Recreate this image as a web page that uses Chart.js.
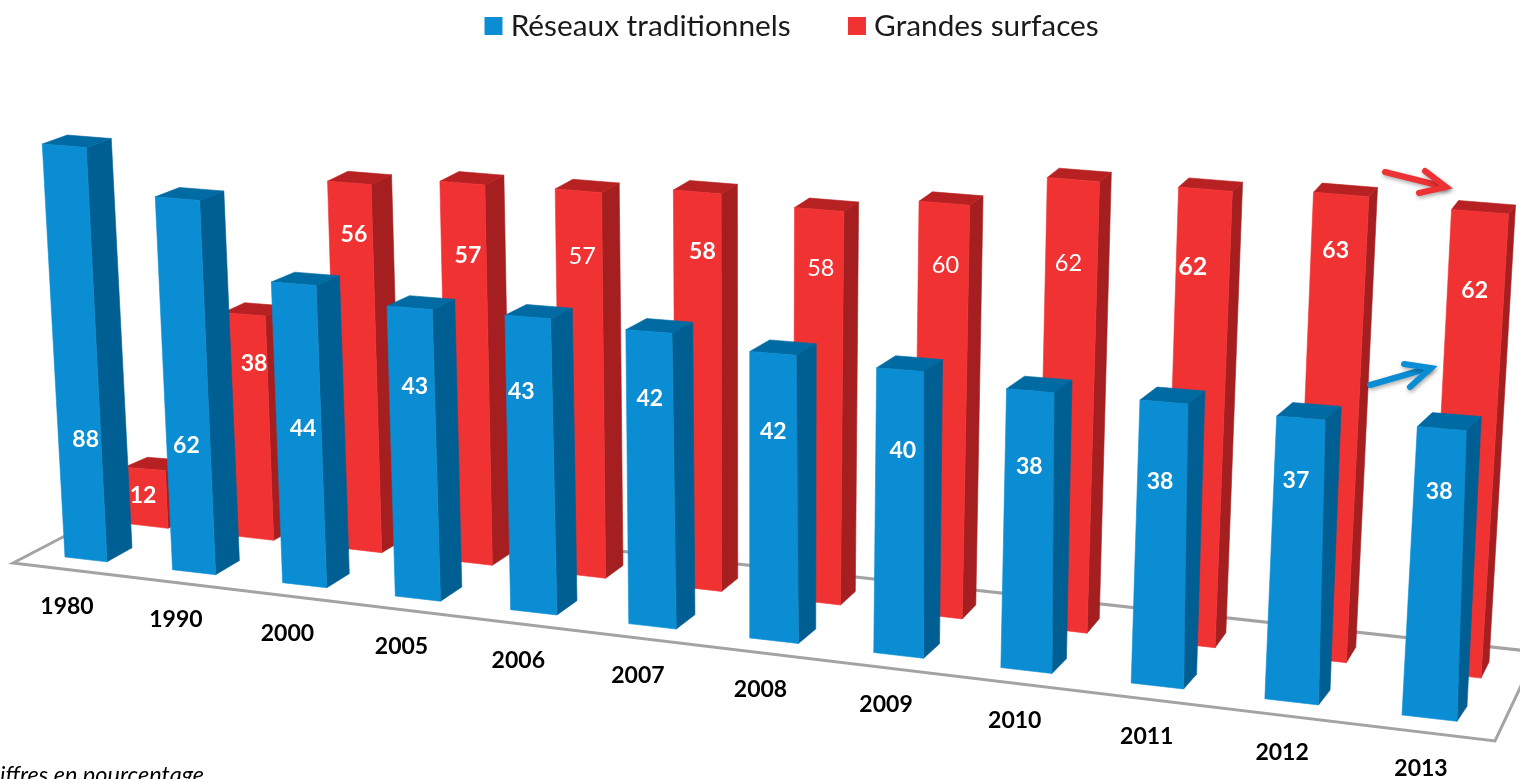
<!DOCTYPE html>
<html lang="fr"><head><meta charset="utf-8">
<style>html,body{margin:0;padding:0;background:#fff;overflow:hidden}#w{width:1520px;height:779px;position:relative}</style>
<script src="https://cdn.jsdelivr.net/npm/chart.js@4"></script>
</head><body><div id="w"><canvas id="c"></canvas></div>
<script>
const categories = ['1980','1990','2000','2005','2006','2007','2008','2009','2010','2011','2012','2013'];
const reseauxTraditionnels = [88,62,44,43,43,42,42,40,38,38,37,38];
const grandesSurfaces = [12,38,56,57,57,58,58,60,62,62,63,62];
const seriesNames = ['Réseaux traditionnels','Grandes surfaces'];
const footnote = 'Chiffres en pourcentage';

// View settings for the 3D look (no data here)
const FONT = 'Lato';
const lerp = (a,b,f)=>a+(b-a)*f;
const perspective = t => t/(1+0.143*(1-t));
const view = [
 { from:[65,557], to:[1402,715], wBase:[42,55], wTop:[44,49], dBase:[[25,-14],[10,-15]], dTop:[[25,-9],[15,-14]],
   vanish:[750,13000], pxPerUnit:[4.7,6.02,6.84,6.75,6.85,7.0,6.82,7.12,7.34,7.45,7.65,7.6],
   front:'#0a8dd2', side:'#005f92', top:'#006aa3',
   labelAt:[.29,.34,.52,.73,.75,.775,.73,.716,.73,.72,.78,.785],
   labelDx:[6,-2,4,3,-8,0,0,3,0,-2,-3,0],
   weight:[700,700,700,700,700,700,700,700,700,700,700,700], size:[23,23,23,23,23,23,23,23,23,23,23,23] },
 { from:[127,523.6], to:[1428,672], wBase:[41,53], wTop:[41,57], dBase:[[22,-11],[8,-16]], dTop:[[23,-10],[7,-9]],
   vanish:[750,14000], pxPerUnit:[4.7,5.87,6.55,6.65,6.74,6.83,6.76,6.87,7.26,7.34,7.38,7.47],
   front:'#f13233', side:'#a51f20', top:'#b82122',
   labelAt:[.54,.78,.86,.81,.83,.85,.85,.85,.815,.83,.88,.83],
   labelDx:[-3,8,3,4,3,5,2,2,-3,-10,-3,-1],
   weight:[700,700,700,700,400,700,400,400,400,700,700,700], size:[23,23,23,23,23.5,23,23.5,23.5,23.5,25,23,23] }
];
const floorOutline = [[13,563],[1495,741],[1537,652],[138,498]];
const tickFrom=[67,607], tickTo=[1421,769];
const arrows = [
 {c:'#ec3234', shaft:[[1385,172],[1445,187]], head:[[1425,171],[1446,187],[1419,193]]},
 {c:'#0a8dd2', shaft:[[1370,385],[1429,368]], head:[[1404,364],[1431,368],[1410,387]]}
];

function poly(ctx,pts,fill){
  ctx.beginPath(); pts.forEach((p,i)=>i?ctx.lineTo(p[0],p[1]):ctx.moveTo(p[0],p[1])); ctx.closePath();
  ctx.fillStyle=fill; ctx.fill(); ctx.strokeStyle=fill; ctx.lineWidth=.6; ctx.stroke();
}
const bars3d = {
  id:'bars3d',
  beforeDatasetsDraw(chart){
    const ctx=chart.ctx, yS=chart.scales.y;
    ctx.save();
    // floor
    ctx.beginPath(); floorOutline.forEach((p,i)=>i?ctx.lineTo(p[0],p[1]):ctx.moveTo(p[0],p[1])); ctx.closePath();
    ctx.lineJoin='miter'; ctx.lineWidth=3; ctx.strokeStyle='#a3a3a3'; ctx.stroke();
    // back series first
    [1,0].forEach(ds=>{
      const v=view[ds], meta=chart.getDatasetMeta(ds), els=meta.data;
      const x0=els[0].x, x1=els[els.length-1].x;
      els.forEach((el,i)=>{
        const t=(el.x-x0)/(x1-x0), p=perspective(t);
        const value=yS.getValueForPixel(el.y);
        const h=value*v.pxPerUnit[i];
        const FL=[lerp(v.from[0],v.to[0],p),lerp(v.from[1],v.to[1],p)];
        const wb=lerp(v.wBase[0],v.wBase[1],p), wt=lerp(v.wTop[0],v.wTop[1],p);
        const FR=[FL[0]+wb,FL[1]+wb*.115];
        const dx=FL[0]-v.vanish[0], dy=FL[1]-v.vanish[1], n=Math.hypot(dx,dy);
        const up=f=>[FL[0]+dx/n*h*f,FL[1]+dy/n*h*f];
        const TL=up(1), TR=[TL[0]+wt,TL[1]+wt*.08];
        const db=[lerp(v.dBase[0][0],v.dBase[1][0],p),lerp(v.dBase[0][1],v.dBase[1][1],p)];
        const dt=[lerp(v.dTop[0][0],v.dTop[1][0],p),lerp(v.dTop[0][1],v.dTop[1][1],p)];
        poly(ctx,[FR,[FR[0]+db[0],FR[1]+db[1]],[TR[0]+dt[0],TR[1]+dt[1]],TR],v.side);
        poly(ctx,[TL,TR,[TR[0]+dt[0],TR[1]+dt[1]],[TL[0]+dt[0],TL[1]+dt[1]]],v.top);
        poly(ctx,[FL,FR,TR,TL],v.front);
        el.$label={pt:up(v.labelAt[i]),w:lerp(wb,wt,v.labelAt[i])};
      });
      els.forEach((el,i)=>{
        const L=el.$label, data=chart.data.datasets[ds].data[i];
        ctx.font=`${v.weight[i]} ${v.size[i]}px ${FONT}`;
        ctx.fillStyle='#fff'; ctx.textAlign='center'; ctx.textBaseline='middle';
        ctx.fillText(String(data),L.pt[0]+L.w/2+v.labelDx[i],L.pt[1]+L.w*.05);
      });
    });
    // category labels
    ctx.fillStyle='#000'; ctx.font=`700 23px ${FONT}`; ctx.textAlign='center'; ctx.textBaseline='middle';
    categories.forEach((c,i)=>{
      const p=perspective(i/(categories.length-1));
      ctx.fillText(c,lerp(tickFrom[0],tickTo[0],p),lerp(tickFrom[1],tickTo[1],p));
    });
    // arrows
    arrows.forEach(a=>{
      ctx.shadowColor='rgba(0,0,0,.35)'; ctx.shadowBlur=4; ctx.shadowOffsetX=1; ctx.shadowOffsetY=2;
      ctx.strokeStyle=a.c; ctx.lineWidth=6; ctx.lineCap='round'; ctx.lineJoin='miter';
      ctx.beginPath(); ctx.moveTo(...a.shaft[0]); ctx.lineTo(...a.shaft[1]); ctx.stroke();
      ctx.beginPath(); ctx.moveTo(...a.head[0]); ctx.lineTo(...a.head[1]); ctx.lineTo(...a.head[2]); ctx.stroke();
      ctx.shadowColor='transparent'; ctx.shadowBlur=0; ctx.shadowOffsetX=0; ctx.shadowOffsetY=0;
    });
    // footnote
    ctx.fillStyle='#000'; ctx.font=`italic 400 23.5px ${FONT}`; ctx.textAlign='right'; ctx.textBaseline='alphabetic';
    ctx.fillText(footnote,204,783);
    ctx.restore();
    return false;
  }
};
new Chart(document.getElementById('c'),{
  type:'bar',
  data:{labels:categories,datasets:[
    {label:seriesNames[0],data:reseauxTraditionnels,backgroundColor:view[0].front},
    {label:seriesNames[1],data:grandesSurfaces,backgroundColor:view[1].front}
  ]},
  options:{
    responsive:true,maintainAspectRatio:false,animation:false,devicePixelRatio:1,
    layout:{padding:{top:-53,left:70}},
    scales:{x:{display:false},y:{display:false,min:0,max:100}},
    plugins:{tooltip:{enabled:false},
      legend:{display:true,position:'top',
        labels:{usePointStyle:true,pointStyle:'rect',boxWidth:4.5,boxHeight:18,padding:64,color:'#1a1a1a',font:{family:FONT,size:29.8}}}}
  },
  plugins:[bars3d]
});
</script></body></html>
